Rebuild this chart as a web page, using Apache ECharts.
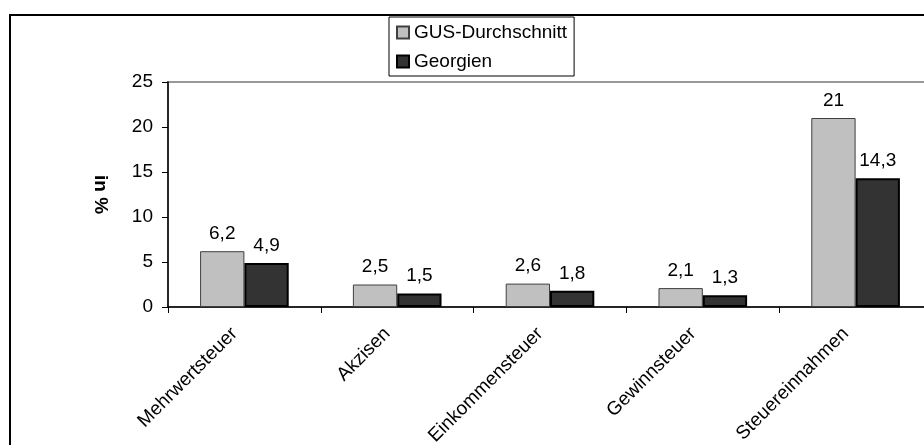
<!DOCTYPE html>
<html>
<head>
<meta charset="utf-8">
<script src="https://cdn.jsdelivr.net/npm/echarts@6/dist/echarts.min.js"></script>
<style>
  html, body { margin: 0; padding: 0; background: #fff; }
  #chart { width: 924px; height: 445px; }
</style>
</head>
<body>
<div id="chart"></div>
<script>
// Kategorien und Werte (in %)
const categories = ['Mehrwertsteuer', 'Akzisen', 'Einkommensteuer', 'Gewinnsteuer', 'Steuereinnahmen'];
const gusValues = [6.2, 2.5, 2.6, 2.1, 21];
const georgienValues = [4.9, 1.5, 1.8, 1.3, 14.3];
const seriesNames = ['GUS-Durchschnitt', 'Georgien'];

const FONT = '"Liberation Sans", Arial, sans-serif';
const FS = 19;

const chart = echarts.init(document.getElementById('chart'));

// Zahlen mit Komma statt Punkt
const fmt = (p) => String(p.value).replace('.', ',');

chart.setOption({
  animation: false,
  textStyle: { fontFamily: FONT, color: '#000' },
  graphic: [{
    type: 'rect',
    shape: { x: 10, y: 15, width: 1000, height: 1000 },
    style: { fill: 'none', stroke: '#000', lineWidth: 2 },
    silent: true
  }],
  legend: {
    orient: 'vertical',
    left: 389,
    top: 17,
    padding: [5, 7, 4, 7],
    itemGap: 8,
    itemWidth: 12,
    itemHeight: 12,
    icon: 'rect',
    borderColor: '#000',
    borderWidth: 1,
    textStyle: { fontFamily: FONT, fontSize: FS, color: '#000', lineHeight: 21 },
    data: seriesNames
  },
  grid: {
    left: 168,
    top: 82,
    width: 764,
    height: 225,
    show: true,
    borderColor: '#999',
    borderWidth: 2,
    containLabel: false,
    outerBoundsMode: 'none'
  },
  xAxis: {
    type: 'category',
    data: categories,
    axisLine: { lineStyle: { color: '#000', width: 1.5 } },
    axisTick: { show: true, length: 6, lineStyle: { color: '#000' } },
    axisLabel: {
      rotate: 45,
      margin: 14,
      padding: [0, 14, 0, 0],
      fontSize: FS,
      color: '#000',
      fontFamily: FONT
    }
  },
  yAxis: {
    type: 'value',
    min: 0,
    max: 25,
    interval: 5,
    name: 'in %',
    nameLocation: 'middle',
    nameRotate: -90,
    nameGap: 58,
    nameTextStyle: { fontSize: FS, fontWeight: 'bold', color: '#000', fontFamily: FONT },
    axisLine: { show: true, lineStyle: { color: '#000', width: 1.5 } },
    axisTick: { show: true, length: 6, lineStyle: { color: '#000' } },
    axisLabel: { margin: 15, fontSize: FS, color: '#000', fontFamily: FONT },
    splitLine: { show: false }
  },
  series: [
    {
      name: seriesNames[0],
      type: 'bar',
      data: gusValues,
      barGap: '0%',
      barCategoryGap: '42%',
      itemStyle: { color: '#c0c0c0', borderColor: '#404040', borderWidth: 1 },
      label: {
        show: true,
        position: 'top',
        distance: 8,
        formatter: fmt,
        fontSize: FS,
        color: '#000',
        fontFamily: FONT
      }
    },
    {
      name: seriesNames[1],
      type: 'bar',
      data: georgienValues,
      itemStyle: { color: '#333333', borderColor: '#000', borderWidth: 2 },
      label: {
        show: true,
        position: 'top',
        distance: 8,
        formatter: fmt,
        fontSize: FS,
        color: '#000',
        fontFamily: FONT
      }
    }
  ]
});
</script>
</body>
</html>
